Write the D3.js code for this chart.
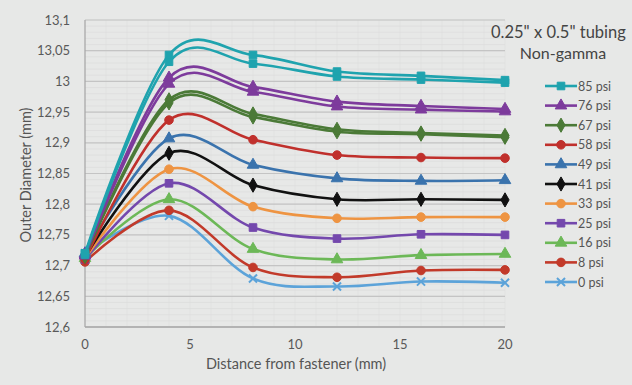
<!DOCTYPE html>
<html>
<head>
<meta charset="utf-8">
<script src="https://cdn.jsdelivr.net/npm/d3@7"></script>
<style>
  body { margin: 0; background: #e7e8e7; }
  svg { display: block; font-family: Lato, "Open Sans", sans-serif; }
</style>
</head>
<body>
<svg id="chart"></svg>
<script>
var width = 632
var height = 385

// distance from fastener (mm)
var distances = [0, 4, 8, 12, 16, 20]

var psiLabels = ["85 psi", "76 psi", "67 psi", "58 psi", "49 psi", "41 psi", "33 psi", "25 psi", "16 psi", "8 psi", "0 psi"]

// outer diameter (mm), one row per pressure
var diameters = [
    [12.720, 13.043, 13.043, 13.016, 13.009, 13.002],
    [12.718, 13.006, 12.991, 12.967, 12.960, 12.955],
    [12.716, 12.970, 12.947, 12.922, 12.916, 12.912],
    [12.710, 12.937, 12.905, 12.880, 12.876, 12.875],
    [12.720, 12.907, 12.864, 12.842, 12.838, 12.839],
    [12.714, 12.883, 12.831, 12.808, 12.808, 12.807],
    [12.712, 12.857, 12.796, 12.777, 12.779, 12.779],
    [12.710, 12.834, 12.762, 12.744, 12.751, 12.750],
    [12.712, 12.808, 12.727, 12.710, 12.717, 12.719],
    [12.706, 12.790, 12.697, 12.681, 12.692, 12.693],
    [12.720, 12.781, 12.679, 12.666, 12.674, 12.672]
]

// second run, shown for the three highest pressures only
var repeatLabels = ["85 psi", "76 psi", "67 psi"]
var repeatDiameters = [
    [12.718, 13.032, 13.029, 13.008, 13.003, 12.998],
    [12.716, 12.996, 12.983, 12.959, 12.954, 12.951],
    [12.715, 12.965, 12.942, 12.918, 12.914, 12.909]
]

var yTicks = [12.6, 12.65, 12.7, 12.75, 12.8, 12.85, 12.9, 12.95, 13, 13.05, 13.1]
var xTicks = [0, 5, 10, 15, 20]

var colors = ["#1fa3ae", "#7d3b9c", "#4b7a37", "#c0302c", "#3a73ad", "#111111", "#ee9442", "#7448ad", "#6cb857", "#c23a2a", "#5ca3d9"]
var symX = d3.symbolX || d3.symbolCross
var shapes = [d3.symbolSquare, d3.symbolTriangle, d3.symbolDiamond, d3.symbolCircle, d3.symbolTriangle,
    d3.symbolDiamond, d3.symbolCircle, d3.symbolSquare, d3.symbolTriangle, d3.symbolCircle, symX]

var plotLeft = 85, plotTop = 20, plotW = 420, plotH = 307

var svg = d3.select("#chart")
    .attr("width", width)
    .attr("height", height)

var x = d3.scaleLinear().domain([0, 20]).range([plotLeft, plotLeft + plotW])
var y = d3.scaleLinear().domain([12.6, 13.1]).range([plotTop + plotH, plotTop])

// minor grid
var g = svg.append("g")
g.selectAll(".minor-y")
    .data(d3.range(12.6, 13.1001, 0.01))
    .enter().append("line")
    .attr("x1", plotLeft).attr("x2", plotLeft + plotW)
    .attr("y1", d => y(d)).attr("y2", d => y(d))
    .attr("stroke", "#dadada").attr("stroke-width", 0.6)
g.selectAll(".minor-x")
    .data(d3.range(1, 21, 1))
    .enter().append("line")
    .attr("x1", d => x(d)).attr("x2", d => x(d))
    .attr("y1", plotTop).attr("y2", plotTop + plotH)
    .attr("stroke", "#dedede").attr("stroke-width", 0.6)

// major grid
g.selectAll(".major-y")
    .data(yTicks)
    .enter().append("line")
    .attr("x1", plotLeft).attr("x2", plotLeft + plotW)
    .attr("y1", d => y(d)).attr("y2", d => y(d))
    .attr("stroke", "#c4c4c4").attr("stroke-width", 1.2)

// axis lines
g.append("line").attr("x1", plotLeft).attr("x2", plotLeft).attr("y1", plotTop).attr("y2", plotTop + plotH)
    .attr("stroke", "#a9a9a9").attr("stroke-width", 1.3)
g.append("line").attr("x1", plotLeft).attr("x2", plotLeft + plotW).attr("y1", plotTop + plotH).attr("y2", plotTop + plotH)
    .attr("stroke", "#a9a9a9").attr("stroke-width", 1.3)

// tick labels
var fmt = d => String(+d.toFixed(2)).replace(".", ",")
svg.append("g").selectAll("text")
    .data(yTicks)
    .enter().append("text")
    .attr("x", 70).attr("y", d => y(d) + 4.5)
    .attr("text-anchor", "end")
    .attr("fill", "#595959").style("font-size", "13px")
    .text(fmt)

svg.append("g").selectAll("text")
    .data(xTicks)
    .enter().append("text")
    .attr("x", d => x(d)).attr("y", 349)
    .attr("text-anchor", "middle")
    .attr("fill", "#595959").style("font-size", "13px")
    .text(d => d)

svg.append("text")
    .attr("x", 296).attr("y", 369)
    .attr("text-anchor", "middle")
    .attr("fill", "#555").style("font-size", "14.5px")
    .text("Distance from fastener (mm)")

svg.append("text")
    .attr("transform", "translate(31,175) rotate(-90)")
    .attr("text-anchor", "middle")
    .attr("fill", "#555").style("font-size", "14.5px")
    .text("Outer Diameter (mm)")

var line = d3.line()
    .x((d, i) => x(distances[i]))
    .y(d => y(d))
    .curve(d3.curveCardinal.tension(0))

function drawSeries(values, i) {
    var s = svg.append("g")
    s.append("path")
        .attr("d", line(values))
        .attr("fill", "none")
        .attr("stroke", colors[i])
        .attr("stroke-width", 2.6)
    var sym = d3.symbol().type(shapes[i]).size(shapes[i] == symX ? 44 : 58)
    s.selectAll("path.m")
        .data(values)
        .enter().append("path")
        .attr("class", "m")
        .attr("transform", (d, j) => "translate(" + x(distances[j]) + "," + y(d) + ")")
        .attr("d", sym)
        .attr("fill", colors[i])
        .attr("stroke", colors[i])
        .attr("stroke-width", shapes[i] == symX ? 2 : 1)
}

for (var i = diameters.length - 1; i >= 0; i--) {
    var r = repeatLabels.indexOf(psiLabels[i])
    if (r >= 0) drawSeries(repeatDiameters[r], i)
    drawSeries(diameters[i], i)
}

// legend
svg.append("text")
    .attr("x", 491).attr("y", 38)
    .attr("fill", "#444").style("font-size", "16.5px")
    .text('0.25" x 0.5" tubing')
svg.append("text")
    .attr("x", 563).attr("y", 59)
    .attr("text-anchor", "middle")
    .attr("fill", "#444").style("font-size", "16px")
    .text("Non-gamma")

var legend = svg.append("g").selectAll("g")
    .data(psiLabels)
    .enter().append("g")
    .attr("transform", (d, i) => "translate(0," + (86 + i * 19.6) + ")")

legend.append("line")
    .attr("x1", 545).attr("x2", 577)
    .attr("stroke", (d, i) => colors[i]).attr("stroke-width", 2.6)
legend.append("path")
    .attr("transform", "translate(561,0)")
    .attr("d", (d, i) => d3.symbol().type(shapes[i]).size(shapes[i] == symX ? 44 : 58)())
    .attr("fill", (d, i) => colors[i])
    .attr("stroke", (d, i) => colors[i])
    .attr("stroke-width", (d, i) => shapes[i] == symX ? 2 : 1)
legend.append("text")
    .attr("x", 578).attr("y", 4.5)
    .attr("fill", "#555").style("font-size", "12.5px")
    .text(d => d)
</script>
</body>
</html>
